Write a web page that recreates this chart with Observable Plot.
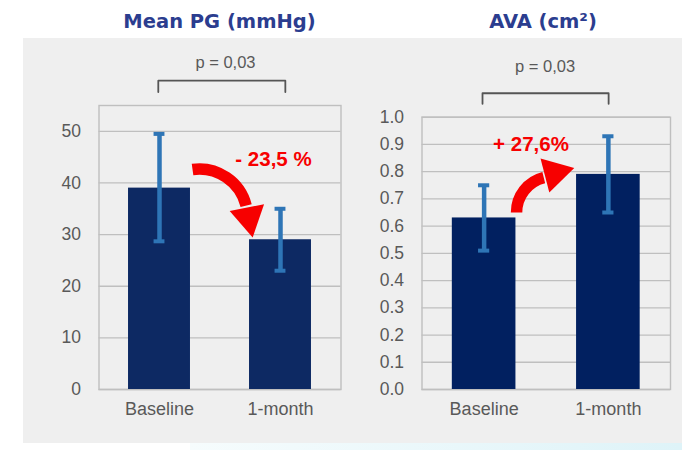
<!DOCTYPE html>
<html>
<head>
<meta charset="utf-8">
<script src="https://cdn.jsdelivr.net/npm/d3@7"></script>
<script src="https://cdn.jsdelivr.net/npm/@observablehq/plot@0.6"></script>
<style>
  body { margin: 0; background: #fff; }
  #root { position: relative; width: 682px; height: 450px; overflow: hidden; background: #fff; }
  #panel { position: absolute; left: 23px; top: 38px; width: 659px; height: 405px; background: #efefef; }
  #glow { position: absolute; left: 190px; top: 443px; width: 492px; height: 7px;
          background: linear-gradient(90deg, #f6fcfd, #def3f8); }
  .title { position: absolute; top: 12px; font-family: "DejaVu Sans", sans-serif; font-weight: bold;
           font-size: 19.5px; line-height: 19.5px; color: #2b3d8f; transform: translateX(-50%); white-space: nowrap; }
  .chart { position: absolute; top: 38px; }
</style>
</head>
<body>
<div id="root">
  <div id="panel"></div>
  <div id="glow"></div>
  <div class="title" id="t1" style="left:219.5px"></div>
  <div class="title" id="t2" style="left:543px"></div>
  <div class="chart" id="c1" style="left:0px"></div>
  <div class="chart" id="c2" style="left:345px"></div>
</div>
<script>
// ---- data ----
const titles = ["Mean PG (mmHg)", "AVA (cm²)"];
const categories = ["Baseline", "1-month"];
const pgMean = [39, 29];
const pgLow = [28.7, 23];
const pgHigh = [49.5, 35];
const avaMean = [0.63, 0.79];
const avaLow = [0.51, 0.65];
const avaHigh = [0.75, 0.93];
const pgTicks = [0, 10, 20, 30, 40, 50];
const avaTicks = [0, 0.1, 0.2, 0.3, 0.4, 0.5, 0.6, 0.7, 0.8, 0.9, 1.0];
const pLabels = ["p = 0,03", "p = 0,03"];
const changeLabels = ["- 23,5 %", "+ 27,6%"];
// annotation anchors, in data units: [x, y]
const pgBracket = [[-0.01, 57.6], [-0.01, 59.8], [1.04, 59.8], [1.04, 57.6]];
const avaBracket = [[-0.013, 1.049], [-0.013, 1.088], [1.002, 1.088], [1.002, 1.049]];
const pgPText = [0.545, 63.3];
const avaPText = [0.491, 1.186];
const pgChangeText = [0.942, 44.5];
const avaChangeText = [0.377, 0.90];
const pgArrow = [0.273, 42.6, 0.716, 35.6];   // x1, y1, x2, y2
const avaArrow = [0.261, 0.650, 0.480, 0.778];
const pgHead = [0.738, 33.3];
const avaHead = [0.568, 0.795];

document.getElementById("t1").textContent = titles[0];
document.getElementById("t2").textContent = titles[1];

const idx = d3.range(categories.length);
const HALF = 0.256;   // half bar width (x units)
const CAP = 0.045;    // half cap width (x units)
const RED = "#f70000";
const GRIDC = "#bfbfbf";
const TXT = "#595959";
const ERR = "#2e75b6";
const FONT = "Liberation Sans, Arial, sans-serif";

function panel({mean, low, high, ticks, yDomain, fmt, barFill, bracket, pText, pLabel,
                changeText, changeLabel, arrow, head, bend, headRotate,
                width, marginLeft, marginRight, marginTop}) {
  return Plot.plot({
    width, height: 405,
    marginLeft, marginRight, marginTop, marginBottom: 54,
    style: {background: "transparent", fontFamily: FONT, fontSize: "17px", color: TXT, overflow: "visible"},
    x: {type: "linear", domain: [-0.5, 1.5]},
    y: {domain: yDomain},
    marks: [
      Plot.gridY({ticks, stroke: GRIDC, strokeOpacity: 1, strokeWidth: 1.3}),
      Plot.frame({stroke: GRIDC, strokeWidth: 1.4}),
      Plot.rectY(idx, {x1: i => i - HALF, x2: i => i + HALF, y1: 0, y2: i => mean[i], fill: barFill}),
      Plot.ruleX(idx, {x: i => i, y1: i => low[i], y2: i => high[i], stroke: ERR, strokeWidth: 4.5}),
      Plot.ruleY(idx.flatMap(i => [[i, low[i]], [i, high[i]]]),
        {x1: d => d[0] - CAP, x2: d => d[0] + CAP, y: d => d[1], stroke: ERR, strokeWidth: 4}),
      Plot.axisY({ticks, tickSize: 0, tickPadding: 18, tickFormat: fmt, fontSize: 17.5, fill: TXT}),
      Plot.axisX({ticks: idx, tickSize: 0, tickPadding: 13, tickFormat: i => categories[i], fontSize: 18, fill: TXT}),
      Plot.line(bracket, {x: d => d[0], y: d => d[1], stroke: "#555", strokeWidth: 1.8}),
      Plot.text([pLabel], {x: pText[0], y: pText[1], fill: TXT, fontSize: 16.5}),
      Plot.arrow([0], {x1: arrow[0], y1: arrow[1], x2: arrow[2], y2: arrow[3], bend,
        headLength: 0, stroke: RED, strokeWidth: 11.5, strokeLinecap: "butt"}),
      Plot.dot([0], {x: head[0], y: head[1], symbol: "triangle", r: 13, fill: RED, rotate: headRotate}),
      Plot.text([changeLabel], {x: changeText[0], y: changeText[1], fill: RED, fontSize: 20.5, fontWeight: "bold"})
    ]
  });
}

document.getElementById("c1").append(panel({
  mean: pgMean, low: pgLow, high: pgHigh, ticks: pgTicks, yDomain: [0, 55], fmt: d3.format("d"),
  barFill: "#0d2963", bracket: pgBracket, pText: pgPText, pLabel: pLabels[0],
  changeText: pgChangeText, changeLabel: changeLabels[0], arrow: pgArrow, head: pgHead,
  bend: 42, headRotate: 169,
  width: 345, marginLeft: 98.5, marginRight: 4.5, marginTop: 67
}));

document.getElementById("c2").append(panel({
  mean: avaMean, low: avaLow, high: avaHigh, ticks: avaTicks, yDomain: [0, 1], fmt: d3.format(".1f"),
  barFill: "#012060", bracket: avaBracket, pText: avaPText, pLabel: pLabels[1],
  changeText: avaChangeText, changeLabel: changeLabels[1], arrow: avaArrow, head: avaHead,
  bend: 38, headRotate: 75.5,
  width: 337, marginLeft: 76.5, marginRight: 12, marginTop: 78.7
}));
</script>
</body>
</html>
